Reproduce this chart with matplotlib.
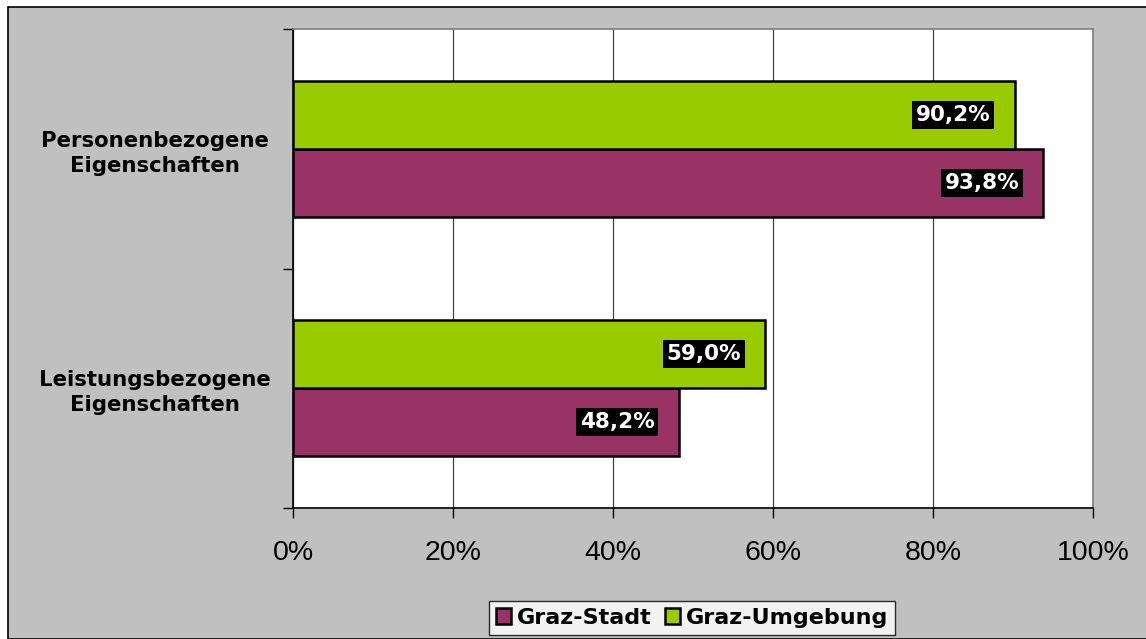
import matplotlib
matplotlib.use("Agg")
import matplotlib.pyplot as plt
from matplotlib.patches import Rectangle
import numpy as np

categories = ["Leistungsbezogene\nEigenschaften", "Personenbezogene\nEigenschaften"]
series_names = ["Graz-Stadt", "Graz-Umgebung"]
stadt = [48.2, 93.8]
umgebung = [59.0, 90.2]
xticks = [0, 20, 40, 60, 80, 100]
xtick_labels = ["0%", "20%", "40%", "60%", "80%", "100%"]

c_stadt = "#993366"
c_umg = "#99CC00"

W, H = 1146, 639
fig = plt.figure(figsize=(W / 100, H / 100), dpi=100, facecolor="white")
# outer gray chart area with border
bg = Rectangle((8 / W, 0), 2, (H - 7) / H, transform=fig.transFigure,
               facecolor="#C0C0C0", edgecolor="black", linewidth=1.2, zorder=-10)
fig.patches.append(bg)

ax = fig.add_axes([293 / W, 1 - 508 / H, 800 / W, 479 / H])
ax.set_facecolor("white")

centers = np.array([0.5, 1.5])
h = 0.2833
ax.barh(centers - h / 2, stadt, height=h, color=c_stadt, edgecolor="black", linewidth=1.8,
        label=series_names[0], zorder=3)
ax.barh(centers + h / 2, umgebung, height=h, color=c_umg, edgecolor="black", linewidth=1.8,
        label=series_names[1], zorder=3)

lbl_kw = dict(ha="right", va="center", color="white", fontsize=15.5, fontweight="bold",
              family="DejaVu Sans", bbox=dict(facecolor="black", edgecolor="none", pad=2.8),
              zorder=5)
for yc, v in zip(centers - h / 2, stadt):
    ax.text(v - 3.0, yc, f"{v:.1f}%".replace(".", ","), **lbl_kw)
for yc, v in zip(centers + h / 2, umgebung):
    ax.text(v - 3.0, yc, f"{v:.1f}%".replace(".", ","), **lbl_kw)

ax.set_xlim(0, 100)
ax.set_ylim(0, 2)
ax.set_xticks(xticks)
ax.set_xticklabels(xtick_labels, fontsize=20.5, family="Liberation Sans")
ax.xaxis.grid(True, color="#404040", linewidth=0.9, zorder=1)
ax.set_axisbelow(True)
ax.tick_params(axis="x", direction="out", length=7, width=1, pad=16, color="black")

ax.set_yticks([0, 1, 2])
ax.set_yticklabels([])
ax.set_yticks(centers, minor=True)
ax.set_yticklabels(categories, minor=True, fontsize=15.3, fontweight="bold",
                   family="DejaVu Sans", ha="center", multialignment="center",
                   linespacing=1.3)
ax.tick_params(axis="y", which="major", direction="out", length=7, width=1)
ax.tick_params(axis="y", which="minor", length=0, pad=99.4)

for s in ["left", "bottom"]:
    ax.spines[s].set_color("black")
    ax.spines[s].set_linewidth(1.2)
for s in ["top", "right"]:
    ax.spines[s].set_color("#808080")
    ax.spines[s].set_linewidth(1.2)

leg = fig.legend(loc="center", bbox_to_anchor=(692 / W, 1 - 618 / H), ncol=2,
                 frameon=True, fancybox=False, edgecolor="black", facecolor="white",
                 prop=dict(family="DejaVu Sans", weight="bold", size=16),
                 handlelength=0.7, handleheight=0.7, handletextpad=0.25,
                 columnspacing=0.6, borderpad=0.3)
leg.get_frame().set_linewidth(1.0)

fig.savefig("out.png", dpi=100, facecolor="white")
